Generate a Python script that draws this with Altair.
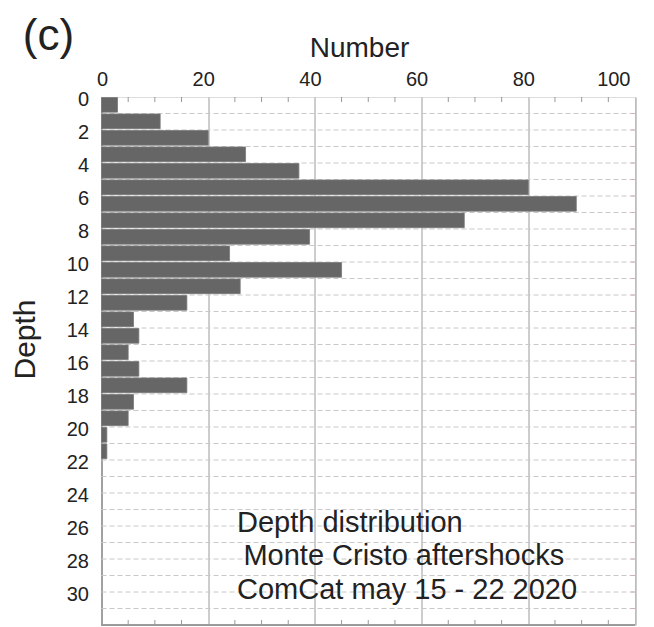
import altair as alt
import pandas as pd

# ---- data ----
depth_bins = list(range(22))                      # lower edge of each 1-km depth bin
counts = [3, 11, 20, 27, 37, 80, 89, 68, 39, 24, 45,
          26, 16, 6, 7, 5, 7, 16, 6, 5, 1, 1]
x_ticks = [0, 20, 40, 60, 80, 100]
y_ticks = list(range(0, 31, 2))
minor_x = [5, 10, 15, 25, 30, 35, 45, 50, 55, 65, 70, 75, 85, 90, 95]
grid_depths = list(range(1, 32))
annotation_lines = ["Depth distribution", "Monte Cristo  aftershocks", "ComCat may 15 - 22 2020"]
annotation_depth = [25.8, 27.8, 29.85]
annotation_x = [25.4, 26.6, 25.4]

W, H = 533.5, 528
FONT = "Liberation Sans"

bars_df = pd.DataFrame({"depth": depth_bins, "count": counts})
grid_df = pd.DataFrame({"d": grid_depths})
minor_df = pd.DataFrame({"v": minor_x})
ann_df = pd.DataFrame({"text": annotation_lines, "d": annotation_depth, "x": annotation_x})

xs = alt.Scale(domain=[0, 100], nice=False, zero=False)
ys = alt.Scale(domain=[0, 32], nice=False, zero=False, reverse=True)

x_axis = alt.Axis(orient="top", values=x_ticks, title="Number",
                  labelFontSize=20, labelFont=FONT, labelColor="#222",
                  labelOffset=-5, labelPadding=8, tickSize=0,
                  domain=False, grid=True, gridColor="#9a9a9a", gridWidth=1,
                  titleFontSize=28, titleFont=FONT, titleFontWeight="normal",
                  titleColor="#222", titleX=257.5, titleY=-49,
                  titleBaseline="middle", titleAlign="center")
y_axis = alt.Axis(orient="left", values=y_ticks, title="Depth",
                  labelFontSize=20, labelFont=FONT, labelColor="#222",
                  labelPadding=13, labelOffset=2, tickSize=0,
                  domain=True, domainColor="#8a8a8a", domainWidth=1.2, grid=False,
                  titleFontSize=30, titleFont=FONT, titleFontWeight="normal",
                  titleColor="#222", titleX=-76, titleY=242, titleAngle=-90,
                  titleBaseline="middle", titleAlign="center")

hgrid = alt.Chart(grid_df).mark_rule(color="#c8c8c8", strokeWidth=1, strokeDash=[5, 3]).encode(
    y=alt.Y("d:Q", scale=ys, axis=y_axis),
    x=alt.value(0), x2=alt.value(W),
)

bars = alt.Chart(bars_df).transform_calculate(
    y0="datum.depth + 0.03", y1="datum.depth + 0.92"
).mark_bar(color="#666666", stroke="#7a7a7a", strokeWidth=0.8).encode(
    x=alt.X("count:Q", scale=xs, axis=x_axis),
    x2=alt.value(0),
    y=alt.Y("y0:Q", scale=ys, axis=y_axis),
    y2="y1:Q",
)

top_ticks = alt.Chart(minor_df).mark_rule(color="#999999", strokeWidth=1).encode(
    x=alt.X("v:Q", scale=xs, axis=x_axis), y=alt.value(0), y2=alt.value(5)
)
bottom_ticks = alt.Chart(minor_df).mark_rule(color="#999999", strokeWidth=1).encode(
    x=alt.X("v:Q", scale=xs, axis=x_axis), y=alt.value(H - 5), y2=alt.value(H)
)
right_ticks = alt.Chart(grid_df).mark_rule(color="#d0b0b0", strokeWidth=1).encode(
    y=alt.Y("d:Q", scale=ys, axis=y_axis), x=alt.value(W - 4), x2=alt.value(W)
)
bottom_border = alt.Chart(grid_df).mark_rule(color="#9a9a9a", strokeWidth=1).encode(
    y=alt.value(H), x=alt.value(0), x2=alt.value(W)
)

ann = alt.Chart(ann_df).mark_text(align="left", baseline="middle", fontSize=29,
                                  font=FONT, color="#222").encode(
    x=alt.X("x:Q", scale=xs, axis=x_axis), y=alt.Y("d:Q", scale=ys, axis=y_axis), text="text:N"
)

panel = alt.Chart(pd.DataFrame({"t": ["(c)"]})).mark_text(
    align="center", baseline="middle", fontSize=44, font=FONT, color="#222"
).encode(x=alt.value(-53), y=alt.value(-60), text="t:N")

chart = alt.layer(hgrid, bars, top_ticks, bottom_ticks, right_ticks, bottom_border, ann, panel).properties(
    width=W, height=H,
    autosize=alt.AutoSizeParams(type="none"),
    padding={"left": 101.5, "top": 97, "right": 19, "bottom": 2},
).configure_view(stroke=None).configure(background="white")

chart.save("out.html", embed_options={"renderer": "svg", "actions": False})
